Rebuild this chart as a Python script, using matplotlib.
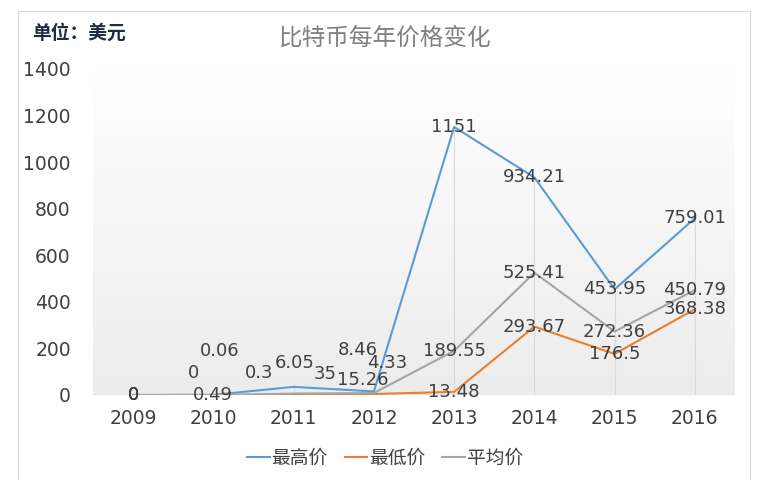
#!/usr/bin/env python3
"""
Bitcoin yearly price chart (max / min / average), Excel-style line chart
"""

import numpy as np
import matplotlib
matplotlib.use('Agg')
import matplotlib.pyplot as plt
from matplotlib.colors import LinearSegmentedColormap
from matplotlib.patches import Rectangle

# data
years = ['2009', '2010', '2011', '2012', '2013', '2014', '2015', '2016']
price_max = [0, 0.49, 35, 15.26, 1151, 934.21, 453.95, 759.01]
price_min = [0, 0, 0.3, 4.33, 13.48, 293.67, 176.5, 368.38]
price_avg = [0, 0.06, 6.05, 8.46, 189.55, 525.41, 272.36, 450.79]
series_names = ['最高价', '最低价', '平均价']
y_ticks = [0, 200, 400, 600, 800, 1000, 1200, 1400]

CJK = ['Noto Sans CJK SC', 'DejaVu Sans']
NUM = ['DejaVu Sans']
colors = ['#5B9BD5', '#ED7D31', '#A5A5A5']
label_color = '#404040'

# label nudges (pixels) for the crowded early years, same order as series
nudges = [
    {2: (32, 13), 3: (-11, 11)},
    {1: (-20, 22), 2: (-34, 22), 3: (13, 31)},
    {1: (6, 44), 2: (1, 31), 3: (-16, 43)},
]

fig = plt.figure(figsize=(7.63, 4.80), dpi=100)
fig.patches.append(Rectangle((18 / 763, -0.1), (750 - 18) / 763, 1.1 - 11 / 480,
                             transform=fig.transFigure, fill=False,
                             edgecolor='#d9d9d9', linewidth=0.8))

ax = fig.add_axes([93 / 763, 85 / 480, 642 / 763, 326 / 480])
x = np.arange(len(years))
ax.set_xlim(-0.5, len(years) - 0.5)
ax.set_ylim(0, 1400)

# gradient plot area
cmap = LinearSegmentedColormap.from_list('bg', ['#ffffff', '#ececec'])
ax.imshow(np.linspace(0, 1, 256).reshape(-1, 1), cmap=cmap, aspect='auto',
          extent=[-0.5, len(years) - 0.5, 0, 1400], zorder=0)

# drop lines
tops = np.max([price_max, price_min, price_avg], axis=0)
ax.vlines(x, 0, tops, color='#d9d9d9', linewidth=0.8, zorder=1)
ax.axhline(0, color='#d9d9d9', linewidth=1, zorder=1)

all_series = [price_max, price_min, price_avg]
for i, (vals, name, c) in enumerate(zip(all_series, series_names, colors)):
    ax.plot(x, vals, color=c, linewidth=1.5, label=name, zorder=3,
            solid_joinstyle='round')

for i, vals in enumerate(all_series):
    for j, v in enumerate(vals):
        dx, dy = nudges[i].get(j, (0, 0))
        ax.annotate(f'{v:g}', (x[j], v), xytext=(dx, dy), textcoords='offset pixels',
                    ha='center', va='center', fontsize=13, color=label_color,
                    family=NUM, zorder=5)

for s in ax.spines.values():
    s.set_visible(False)
ax.set_xticks(x)
ax.set_xticklabels(years, family=NUM, fontsize=13.5, color=label_color)
ax.set_yticks(y_ticks)
ax.set_yticklabels([str(t) for t in y_ticks], family=NUM, fontsize=13.5, color=label_color)
ax.tick_params(axis='both', length=0)
ax.tick_params(axis='y', pad=16)
ax.tick_params(axis='x', pad=10)

fig.text(385 / 763, 1 - 38 / 480, '比特币每年价格变化', ha='center', va='center',
         fontsize=17, color='#808080', family=CJK)
fig.text(32 / 763, 1 - 33 / 480, '单位：美元', ha='left', va='center',
         fontsize=13.5, color='#1f2a44', family=CJK, weight='bold')

leg = fig.legend(loc='center', bbox_to_anchor=(385 / 763, 1 - 458 / 480), ncol=3,
                 frameon=False, handlelength=1.2, handletextpad=0.1, columnspacing=0.9,
                 prop={'family': CJK, 'size': 13.5})
for t in leg.get_texts():
    t.set_color(label_color)

plt.savefig('out.png', dpi=100)
